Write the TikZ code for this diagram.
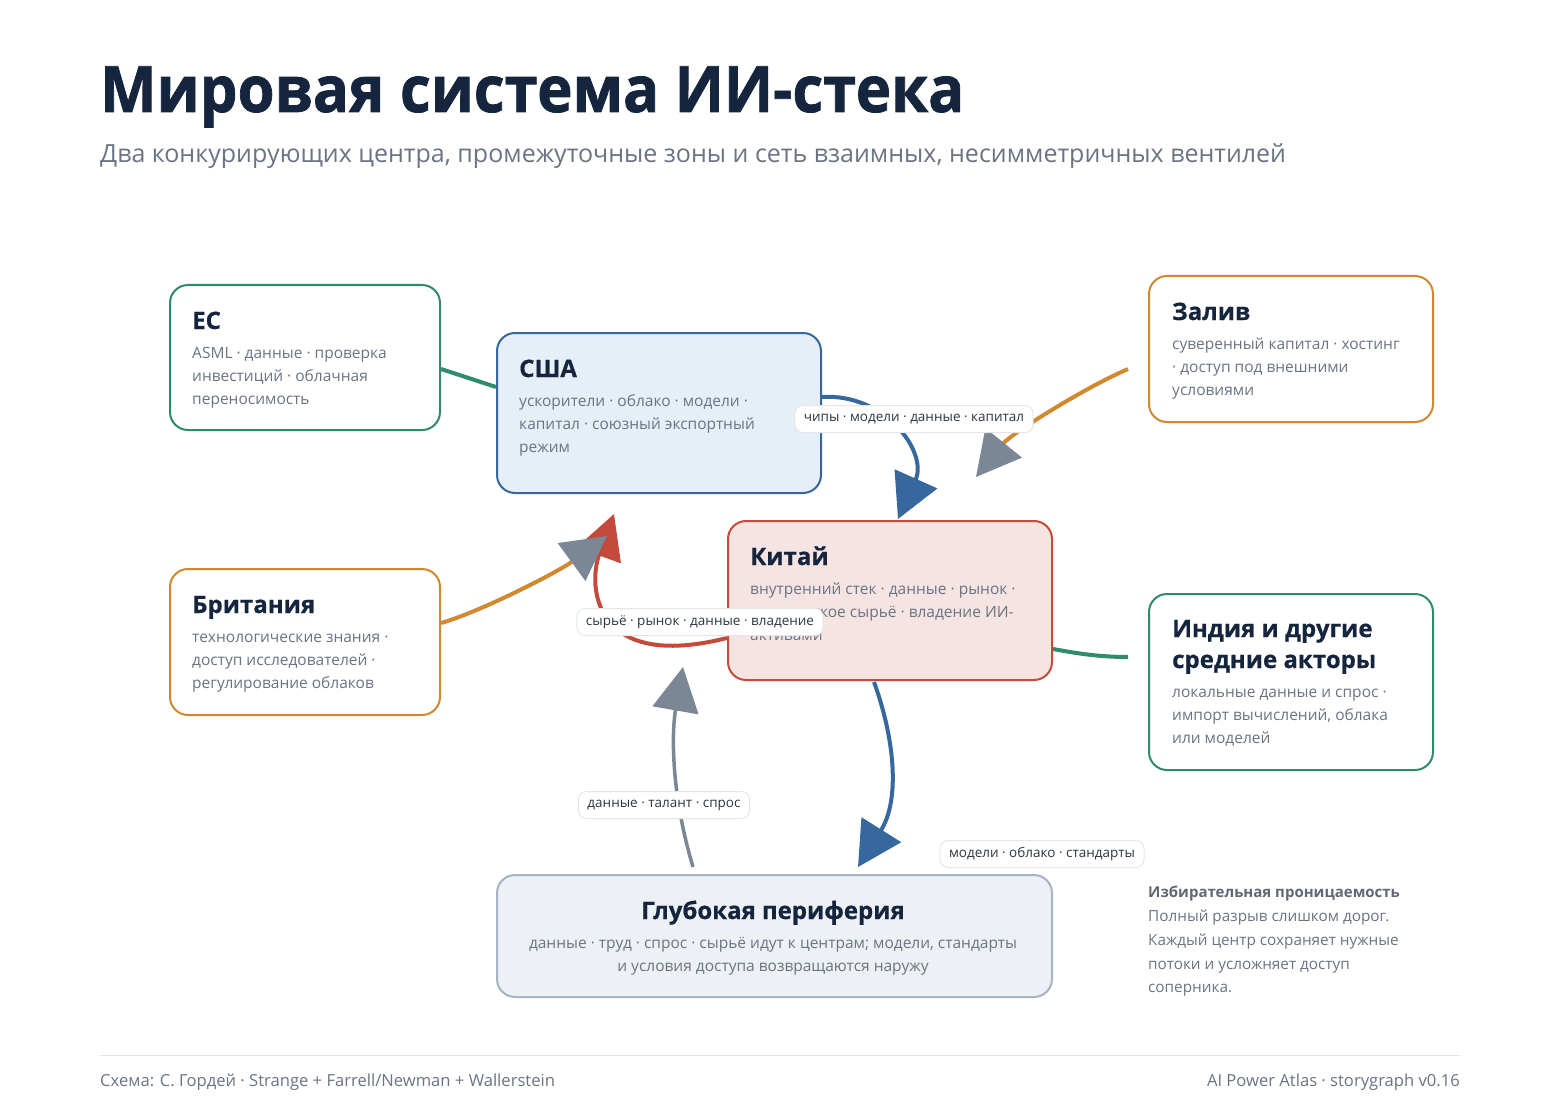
\documentclass[tikz,border=0pt]{standalone}
\usepackage{fontspec}
\setmainfont{Open Sans}
\usetikzlibrary{arrows.meta}
\definecolor{navy}{RGB}{21,37,61}
\definecolor{graytxt}{RGB}{106,116,131}
\definecolor{lbltxt}{RGB}{45,55,68}
\definecolor{lblborder}{RGB}{226,230,235}
\definecolor{cgreen}{RGB}{46,139,110}
\definecolor{cblue}{RGB}{54,104,158}
\definecolor{usafill}{RGB}{230,238,248}
\definecolor{corange}{RGB}{208,137,46}
\definecolor{cred}{RGB}{196,75,59}
\definecolor{chinafill}{RGB}{245,228,225}
\definecolor{arrowgray}{RGB}{123,135,148}
\definecolor{perifill}{RGB}{237,240,244}
\definecolor{periborder}{RGB}{167,180,195}
\definecolor{footline}{RGB}{225,229,234}
\begin{document}
\begin{tikzpicture}[x=1pt,y=-1pt,
  box/.style={draw, rounded corners=18pt, line width=2pt, anchor=north west, inner sep=0pt},
  ttl/.style={anchor=base west, inner sep=0pt, font=\fontsize{24}{28}\selectfont\bfseries\addfontfeature{FakeBold=0.6}, text=navy},
  bdy/.style={anchor=base west, inner sep=0pt, font=\fontsize{15.5}{20}\selectfont, text=graytxt},
  lbl/.style={draw=lblborder, fill=white, rounded corners=8pt, line width=1pt, inner xsep=9pt, inner ysep=0pt, minimum height=27pt, font=\fontsize{13.5}{16}\selectfont, text=lbltxt},
  con/.style={line width=4pt},
  bigtip/.style={-{Triangle[length=44pt,width=46pt]}},
  graytip/.style={-{Triangle[length=44pt,width=46pt,color=arrowgray]}}
]
\useasboundingbox (0,0) rectangle (1560,1115);
\fill[white] (0,0) rectangle (1560,1115);

% title
\node[anchor=base west, inner sep=0pt, xscale=0.935, font=\fontsize{64}{70}\selectfont\bfseries\addfontfeature{FakeBold=1.2}, text=navy] (title) at (100,112) {Мировая система ИИ-стека};
\node[anchor=base west, inner sep=0pt, font=\fontsize{25}{29}\selectfont, text=graytxt] (subtitle) at (100,163) {Два конкурирующих центра, промежуточные зоны и сеть взаимных, несимметричных вентилей};

% boxes
\node[box, draw=cgreen, fill=white, minimum width=270pt, minimum height=145pt] (ec) at (169,284) {};
\node[box, draw=cblue, fill=usafill, minimum width=324pt, minimum height=160pt] (usa) at (496,332) {};
\node[box, draw=corange, fill=white, minimum width=284pt, minimum height=146pt] (gulf) at (1148,275) {};
\node[box, draw=cred, fill=chinafill, minimum width=324pt, minimum height=159pt] (china) at (727,520) {};
\node[box, draw=corange, fill=white, minimum width=270pt, minimum height=146pt] (brit) at (169,568) {};
\node[box, draw=cgreen, fill=white, minimum width=284pt, minimum height=176pt] (india) at (1148,593) {};
\node[box, draw=periborder, fill=perifill, minimum width=555pt, minimum height=122pt] (peri) at (496,874) {};

% box texts
\node[ttl] (ecT) at (192,329) {ЕС};
\node[bdy] (ecB1) at (192,358) {ASML · данные · проверка};
\node[bdy] (ecB2) at (192,381) {инвестиций · облачная};
\node[bdy] (ecB3) at (192,404) {переносимость};

\node[ttl] (usaT) at (519,377) {США};
\node[bdy] (usaB1) at (519,406) {ускорители · облако · модели ·};
\node[bdy] (usaB2) at (519,429) {капитал · союзный экспортный};
\node[bdy] (usaB3) at (519,452) {режим};

\node[ttl] (gulfT) at (1172,320) {Залив};
\node[bdy] (gulfB1) at (1172,349) {суверенный капитал · хостинг};
\node[bdy] (gulfB2) at (1172,372) {· доступ под внешними};
\node[bdy] (gulfB3) at (1172,395) {условиями};

\node[ttl] (chinaT) at (750,565) {Китай};
\node[bdy] (chinaB1) at (750,594) {внутренний стек · данные · рынок ·};
\node[bdy] (chinaB2) at (750,617) {критическое сырьё · владение ИИ-};
\node[bdy] (chinaB3) at (750,640) {активами};

\node[ttl] (britT) at (192,613) {Британия};
\node[bdy] (britB1) at (192,642) {технологические знания ·};
\node[bdy] (britB2) at (192,665) {доступ исследователей ·};
\node[bdy] (britB3) at (192,688) {регулирование облаков};

\node[ttl] (indiaT1) at (1172,637) {Индия и другие};
\node[ttl] (indiaT2) at (1172,668) {средние акторы};
\node[bdy] (indiaB1) at (1172,697) {локальные данные и спрос ·};
\node[bdy] (indiaB2) at (1172,720) {импорт вычислений, облака};
\node[bdy] (indiaB3) at (1172,743) {или моделей};

\node[ttl, anchor=base] (periT) at (773,919) {Глубокая периферия};
\node[bdy, anchor=base] (periB1) at (773,948) {данные · труд · спрос · сырьё идут к центрам; модели, стандарты};
\node[bdy, anchor=base] (periB2) at (773,971) {и условия доступа возвращаются наружу};

% side note
\node[bdy, font=\fontsize{15}{18}\selectfont\bfseries, text=graytxt!90!black] (noteT) at (1148,897) {Избирательная проницаемость};
\node[bdy, font=\fontsize{15.3}{18}\selectfont] (noteB1) at (1148,921) {Полный разрыв слишком дорог.};
\node[bdy, font=\fontsize{15.3}{18}\selectfont] (noteB2) at (1148,945) {Каждый центр сохраняет нужные};
\node[bdy, font=\fontsize{15.3}{18}\selectfont] (noteB3) at (1148,969) {потоки и усложняет доступ};
\node[bdy, font=\fontsize{15.3}{18}\selectfont] (noteB4) at (1148,992) {соперника.};

% connectors
\draw[con, cgreen] ([yshift=-11.5pt]ec.east) -- ([yshift=26pt]usa.west);
\draw[con, cgreen] ([xshift=-20pt,yshift=25pt]india.west) .. controls (1095,657) and (1070,652) .. ([yshift=-48.5pt]china.east);
\draw[con, cblue, bigtip] ([yshift=16pt]usa.east) .. controls (885,393) and (928,452) .. ([xshift=8pt,yshift=1pt]china.north);
\draw[con, corange, graytip] ([xshift=-20pt,yshift=-20pt]gulf.west) .. controls (1080,390) and (1010,435) .. ([xshift=86pt,yshift=43pt]china.north);
\draw[con, cred, bigtip] ([yshift=-37.5pt]china.west) .. controls (592,672) and (588,585) .. ([xshift=-45pt,yshift=-20pt]usa.south);
\draw[con, corange, graytip] ([yshift=19pt]brit.east) .. controls (480,612) and (558,572) .. ([xshift=-52pt,yshift=-42pt]usa.south);
\draw[con, arrowgray, line width=3.5pt, graytip] ([xshift=-81.5pt,yshift=7pt]peri.north) .. controls (670,790) and (672,730) .. ([xshift=-44pt,yshift=14pt]china.south west);
\draw[con, cblue, bigtip] ([xshift=-16pt,yshift=-1pt]china.south) .. controls (895,740) and (900,800) .. ([xshift=83.5pt,yshift=7pt]peri.north);

% labels
\node[lbl] (l1) at (914,419) {чипы · модели · данные · капитал};
\node[lbl] (l2) at (700,622) {сырьё · рынок · данные · владение};
\node[lbl] (l3) at (664,805) {данные · талант · спрос};
\node[lbl] (l4) at (1042,854) {модели · облако · стандарты};

% footer
\draw[footline, line width=1pt] (100,1055) -- (1460,1055);
\node[bdy, font=\fontsize{16.6}{19}\selectfont] (foot1) at (100,1086) {Схема: С. Гордей · Strange + Farrell/Newman + Wallerstein};
\node[bdy, anchor=base east, font=\fontsize{16.6}{19}\selectfont] (foot2) at (1460,1086) {AI Power Atlas · storygraph v0.16};
\end{tikzpicture}
\end{document}
